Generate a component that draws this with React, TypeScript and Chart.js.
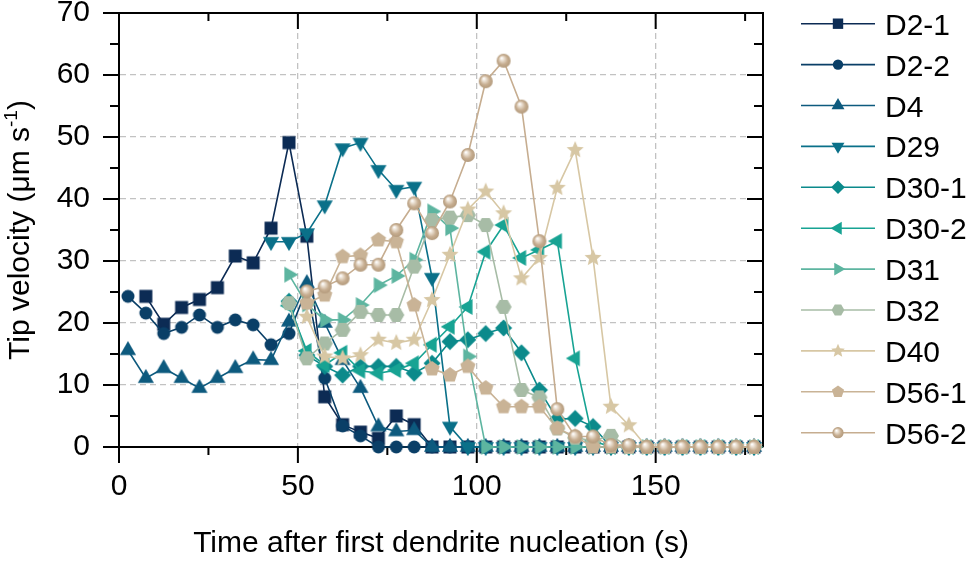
import { useEffect, useRef } from "react";
import { Chart, registerables } from "chart.js";

Chart.register(...registerables);

const fontFamily = "'Liberation Sans', Arial, sans-serif";

// time after first nucleation (s), one point every 5 s
const times = [
  2.5, 7.5, 12.5, 17.5, 22.5, 27.5, 32.5, 37.5, 42.5, 47.5, 52.5, 57.5,
  62.5, 67.5, 72.5, 77.5, 82.5, 87.5, 92.5, 97.5, 102.5, 107.5, 112.5, 117.5,
  122.5, 127.5, 132.5, 137.5, 142.5, 147.5, 152.5, 157.5, 162.5, 167.5, 172.5, 177.5,
];

const seriesNames = ["D2-1", "D2-2", "D4", "D29", "D30-1", "D30-2", "D31", "D32", "D40", "D56-1", "D56-2"];

const seriesColors = [
  "#0c2b54", "#0a3f67", "#0d5a7e", "#0a7089", "#0b8a8b", "#17a393",
  "#5db5a0", "#a7bca6", "#d7c7a4", "#c9b396", "#c6ad90",
];

type Shape =
  | "square" | "circle" | "triUp" | "triDown" | "diamond" | "triLeft"
  | "triRight" | "hexagon" | "star" | "pentagon" | "sphere";

const seriesShapes: Shape[] = [
  "square", "circle", "triUp", "triDown", "diamond", "triLeft",
  "triRight", "hexagon", "star", "pentagon", "sphere",
];

// tip velocity (µm/s)
const d2_1 = [
  null, 24.3, 19.8, 22.5, 23.8, 25.7, 30.8, 29.7, 35.3, 49.1, 34.0, 8.1,
  3.6, 2.4, 1.4, 5.0, 3.6, 0, 0, 0, 0, 0, 0, 0,
  0, 0, 0, 0, 0, 0, 0, 0, 0, 0, 0, 0,
];
const d2_2 = [
  24.3, 21.6, 18.3, 19.3, 21.3, 19.3, 20.5, 19.7, 16.5, 18.3, 25.5, 11.1,
  3.4, 1.8, 0, 0, 0, 0, 0, 0, 0, 0, 0, 0,
  0, 0, 0, 0, 0, 0, 0, 0, 0, 0, 0, 0,
];
const d4 = [
  15.6, 11.1, 12.7, 11.1, 9.5, 11.1, 12.7, 14.1, 14.0, 20.2, 26.4, 20.0,
  14.0, 9.5, 3.3, 2.5, 2.7, 0, 0, 0, 0, 0, 0, 0,
  0, 0, 0, 0, 0, 0, 0, 0, 0, 0, 0, 0,
];
const d29 = [
  null, null, null, null, null, null, null, null, 33.1, 33.1, 34.5, 39.0,
  48.2, 49.1, 44.7, 41.5, 42.0, 27.3, 3.3, 0, 0, 0, 0, 0,
  0, 0, 0, 0, 0, 0, 0, 0, 0, 0, 0, 0,
];
const d30_1 = [
  null, null, null, null, null, null, null, null, null, 23.5, 14.8, 13.0,
  11.6, 13.0, 13.0, 13.0, 11.9, 13.5, 17.0, 17.3, 18.3, 19.2, 15.2, 9.2,
  4.5, 4.6, 3.3, 0, 0, 0, 0, 0, 0, 0, 0, 0,
];
const d30_2 = [
  null, null, null, null, null, null, null, null, null, 22.8, 15.5, 13.2,
  15.2, 12.3, 11.9, 12.4, 13.5, 16.5, 19.4, 22.6, 31.5, 35.8, 30.5, 31.8,
  33.2, 14.3, 1.0, 0, 0, 0, 0, 0, 0, 0, 0, 0,
];
const d31 = [
  null, null, null, null, null, null, null, null, null, 27.8, 23.0, 20.5,
  20.5, 22.9, 26.1, 27.6, 30.2, 38.0, 35.3, 14.6, 0, 0, 0, 0,
  0, 0, 0, 0, 0, 0, 0, 0, 0, 0, 0, 0,
];
const d32 = [
  null, null, null, null, null, null, null, null, null, 23.2, 14.3, 16.7,
  18.9, 21.8, 21.3, 21.3, 29.1, 36.6, 37.0, 37.4, 35.8, 22.6, 9.2, 8.0,
  3.0, 1.5, 1.0, 1.8, 0, 0, 0, 0, 0, 0, 0, 0,
];
const d40 = [
  null, null, null, null, null, null, null, null, null, null, 21.0, 14.6,
  14.3, 14.8, 17.3, 16.8, 17.3, 23.7, 31.0, 38.3, 41.2, 37.7, 27.2, 30.5,
  41.8, 47.9, 30.5, 6.5, 3.5, 0, 0, 0, 0, 0, 0, 0,
];
const d56_1 = [
  null, null, null, null, null, null, null, null, null, null, 23.2, 24.5,
  30.7, 30.9, 33.4, 33.1, 22.9, 12.6, 11.6, 13.0, 9.5, 6.5, 6.5, 6.5,
  3.0, 1.7, 0, 0, 0, 0, 0, 0, 0, 0, 0, 0,
];
const d56_2 = [
  null, null, null, null, null, null, null, null, null, null, 25.1, 25.9,
  27.2, 29.4, 29.4, 35.0, 39.3, 34.5, 39.6, 47.1, 59.0, 62.3, 54.9, 33.2,
  6.1, 1.7, 1.7, 0.3, 0.3, 0, 0, 0, 0, 0, 0, 0,
];

const seriesValues = [d2_1, d2_2, d4, d29, d30_1, d30_2, d31, d32, d40, d56_1, d56_2];

const xTitle = "Time after first dendrite nucleation (s)";
const yTitleMain = "Tip velocity (μm s";
const yTitleSup = "-1";
const yTitleTail = ")";

function tracePolygon(ctx: CanvasRenderingContext2D, cx: number, cy: number, r: number, n: number, startDeg: number) {
  for (let k = 0; k < n; k++) {
    const a = ((startDeg + (360 / n) * k) * Math.PI) / 180;
    const px = cx + r * Math.cos(a);
    const py = cy + r * Math.sin(a);
    if (k === 0) ctx.moveTo(px, py);
    else ctx.lineTo(px, py);
  }
  ctx.closePath();
}

function paintMarker(ctx: CanvasRenderingContext2D, shape: Shape, cx: number, cy: number, k: number, color: string) {
  ctx.save();
  ctx.fillStyle = color;
  ctx.beginPath();
  switch (shape) {
    case "square": {
      const h = 6.5 * k;
      ctx.rect(cx - h, cy - h, 2 * h, 2 * h);
      break;
    }
    case "circle":
      ctx.arc(cx, cy, 6.5 * k, 0, Math.PI * 2);
      break;
    case "triUp":
      tracePolygon(ctx, cx, cy, 9.3 * k, 3, -90);
      break;
    case "triDown":
      tracePolygon(ctx, cx, cy, 9.3 * k, 3, 90);
      break;
    case "triLeft":
      tracePolygon(ctx, cx, cy, 9.3 * k, 3, 180);
      break;
    case "triRight":
      tracePolygon(ctx, cx, cy, 9.3 * k, 3, 0);
      break;
    case "diamond":
      tracePolygon(ctx, cx, cy, 8.5 * k, 4, 0);
      break;
    case "hexagon":
      tracePolygon(ctx, cx, cy, 8 * k, 6, 0);
      break;
    case "pentagon":
      tracePolygon(ctx, cx, cy, 8 * k, 5, -90);
      break;
    case "star": {
      const ro = 9 * k;
      const ri = 4.1 * k;
      for (let j = 0; j < 10; j++) {
        const a = ((-90 + 36 * j) * Math.PI) / 180;
        const r = j % 2 === 0 ? ro : ri;
        const px = cx + r * Math.cos(a);
        const py = cy + r * Math.sin(a);
        if (j === 0) ctx.moveTo(px, py);
        else ctx.lineTo(px, py);
      }
      ctx.closePath();
      break;
    }
    case "sphere": {
      const r = 7 * k;
      const g = ctx.createRadialGradient(cx - r * 0.3, cy - r * 0.4, r * 0.05, cx, cy, r);
      g.addColorStop(0, "#ffffff");
      g.addColorStop(0.28, "#e8dccd");
      g.addColorStop(0.65, color);
      g.addColorStop(1, "#b39a7c");
      ctx.fillStyle = g;
      ctx.arc(cx, cy, r, 0, Math.PI * 2);
      break;
    }
  }
  ctx.fill();
  ctx.restore();
}

function makeMarker(shape: Shape, color: string) {
  const c = document.createElement("canvas");
  c.width = 24;
  c.height = 24;
  const ctx = c.getContext("2d");
  if (ctx) paintMarker(ctx, shape, 12, 12, 1, color);
  return c;
}

const framePlugin = {
  id: "frameTicks",
  beforeDatasetsDraw(chart: any) {
    const { ctx, chartArea: a, scales } = chart;
    const xs = scales.x;
    const ys = scales.y;
    ctx.save();
    ctx.strokeStyle = "#000";
    ctx.lineWidth = 2;
    ctx.beginPath();
    ctx.moveTo(a.left - 1, a.top);
    ctx.lineTo(a.right, a.top);
    ctx.lineTo(a.right, a.bottom);
    for (let v = 0; v <= 180; v += 25) {
      const p = xs.getPixelForValue(v);
      const len = v % 50 === 0 ? 16 : 8;
      ctx.moveTo(p, a.bottom);
      ctx.lineTo(p, a.bottom + len);
      if (v > 0) {
        ctx.moveTo(p, a.top);
        ctx.lineTo(p, a.top + len);
      }
    }
    for (let v = 0; v <= 70; v += 5) {
      const p = ys.getPixelForValue(v);
      const len = v % 10 === 0 ? 16 : 9;
      ctx.moveTo(a.left, p);
      ctx.lineTo(a.left - len, p);
      if (v > 0 && v < 70) {
        ctx.moveTo(a.right, p);
        ctx.lineTo(a.right - len, p);
      }
    }
    ctx.stroke();
    ctx.restore();
  },
};

const yTitlePlugin = {
  id: "yTitle",
  afterDraw(chart: any) {
    const { ctx, chartArea: a } = chart;
    ctx.save();
    ctx.fillStyle = "#000";
    ctx.textAlign = "left";
    ctx.textBaseline = "alphabetic";
    ctx.font = `30px ${fontFamily}`;
    const w1 = ctx.measureText(yTitleMain).width;
    const w3 = ctx.measureText(yTitleTail).width;
    ctx.font = `19px ${fontFamily}`;
    const w2 = ctx.measureText(yTitleSup).width;
    ctx.translate(29, (a.top + a.bottom) / 2);
    ctx.rotate(-Math.PI / 2);
    let x = -(w1 + w2 + w3) / 2;
    ctx.font = `30px ${fontFamily}`;
    ctx.fillText(yTitleMain, x, 0);
    x += w1;
    ctx.font = `19px ${fontFamily}`;
    ctx.fillText(yTitleSup, x, -12);
    x += w2;
    ctx.font = `30px ${fontFamily}`;
    ctx.fillText(yTitleTail, x, 0);
    ctx.restore();
  },
};

const legendPlugin = {
  id: "sideLegend",
  afterDraw(chart: any) {
    const { ctx } = chart;
    ctx.save();
    seriesNames.forEach((name, i) => {
      const y = 23.7 + i * 40.9;
      ctx.strokeStyle = seriesColors[i];
      ctx.lineWidth = 1.6;
      ctx.beginPath();
      ctx.moveTo(801, y);
      ctx.lineTo(875, y);
      ctx.stroke();
      paintMarker(ctx, seriesShapes[i], 838, y, 0.8, seriesColors[i]);
      ctx.fillStyle = "#000";
      ctx.font = `30px ${fontFamily}`;
      ctx.textAlign = "left";
      ctx.textBaseline = "alphabetic";
      ctx.fillText(name, 885, y + 11);
    });
    ctx.restore();
  },
};

export default function App() {
  const canvasRef = useRef<HTMLCanvasElement | null>(null);

  useEffect(() => {
    const canvas = canvasRef.current;
    if (!canvas) return;

    const datasets = seriesNames.map((name, i) => ({
      label: name,
      data: times.map((t, j) => ({ x: t, y: seriesValues[i][j] })),
      borderColor: seriesColors[i],
      backgroundColor: seriesColors[i],
      borderWidth: 1.6,
      pointStyle: makeMarker(seriesShapes[i], seriesColors[i]),
      pointRadius: 8,
      pointHoverRadius: 8,
      clip: false as const,
      order: seriesNames.length - i,
    }));

    const chart = new Chart(canvas, {
      type: "line",
      data: { datasets } as any,
      options: {
        responsive: false,
        animation: false,
        events: [],
        layout: { padding: { left: 0, top: 13, right: 206, bottom: 0 } },
        plugins: {
          legend: { display: false },
          tooltip: { enabled: false },
        },
        scales: {
          x: {
            type: "linear",
            min: 0,
            max: 180,
            afterFit: (s: any) => {
              s.height = 115;
              s.paddingLeft = 0;
              s.paddingRight = 0;
            },
            ticks: {
              stepSize: 50,
              includeBounds: false,
              padding: 22,
              maxRotation: 0,
              color: "#000",
              font: { size: 30, family: fontFamily },
            },
            grid: { color: "#c2c2c2", lineWidth: 1.3, drawTicks: false },
            border: { display: true, color: "#000", width: 2, dash: [6, 4] },
            title: {
              display: true,
              text: xTitle,
              color: "#000",
              font: { size: 30, family: fontFamily, lineHeight: 1.2 },
              padding: { top: 0, bottom: 0 },
            },
          },
          y: {
            type: "linear",
            min: 0,
            max: 70,
            afterFit: (s: any) => {
              s.width = 119;
              s.paddingTop = 0;
              s.paddingBottom = 0;
            },
            ticks: {
              stepSize: 10,
              padding: 29,
              color: "#000",
              font: { size: 30, family: fontFamily },
            },
            grid: { color: "#c2c2c2", lineWidth: 1.3, drawTicks: false },
            border: { display: true, color: "#000", width: 2, dash: [6, 4] },
          },
        },
      },
      plugins: [framePlugin, yTitlePlugin, legendPlugin],
    });

    return () => chart.destroy();
  }, []);

  return (
    <div style={{ position: "fixed", left: 0, top: 0, width: 969, height: 562, background: "#fff" }}>
      <canvas ref={canvasRef} width={969} height={562} style={{ display: "block", width: 969, height: 562 }} />
    </div>
  );
}
